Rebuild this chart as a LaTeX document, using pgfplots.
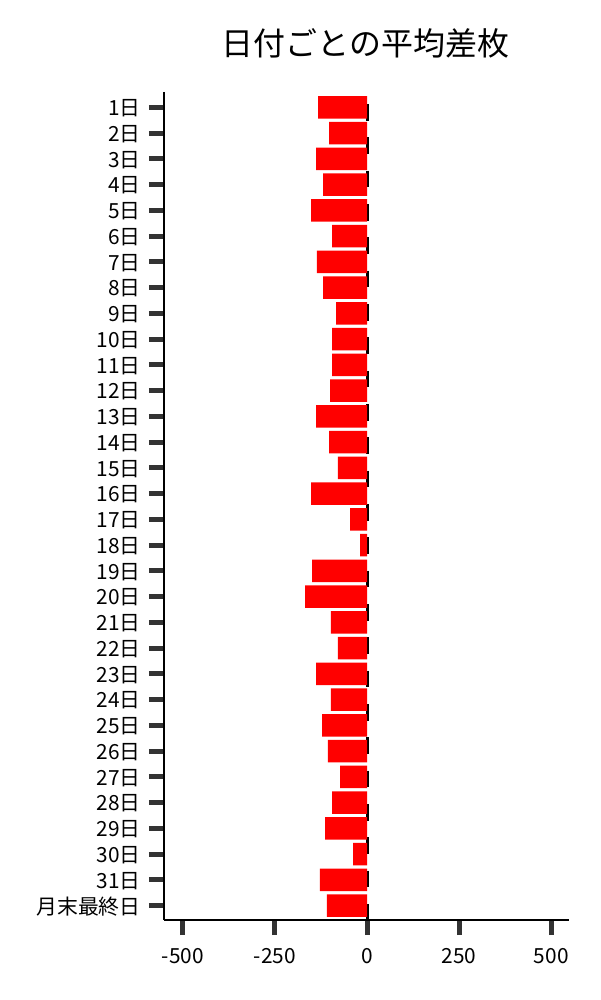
\documentclass[border=0pt]{standalone}
\usepackage{fontspec}
\setmainfont{Noto Sans CJK JP}
\usepackage{pgfplots}
\pgfplotsset{compat=1.18}
\definecolor{tickgray}{HTML}{333333}

\begin{document}
\begin{tikzpicture}
\path[use as bounding box] (0,0) rectangle (432pt,720pt);
\node[font=\fontsize{23}{27}\selectfont] at (263.2pt,689pt) {日付ごとの平均差枚};
\begin{axis}[
    at={(118.08pt,57.6pt)}, anchor=south west,
    scale only axis,
    width=291.6pt, height=596.16pt,
    xbar, bar width=16.2pt,
    y dir=reverse,
    xmin=-551, xmax=548,
    ymin=-0.594, ymax=31.563,
    axis x line*=bottom, axis y line*=left,
    axis line style={black, line width=1pt},
    xtick={-500,-250,0,250,500},
    xticklabels={-500,-250,0,250,500},
    ytick={0,...,31},
    yticklabels={1日,2日,3日,4日,5日,6日,7日,8日,9日,10日,11日,12日,13日,14日,15日,16日,17日,18日,19日,20日,21日,22日,23日,24日,25日,26日,27日,28日,29日,30日,31日,月末最終日},
    tick align=outside,
    major tick length=10.8pt,
    tick style={line width=3.6pt, color=tickgray},
    ticklabel style={font=\fontsize{15}{18}\selectfont, text=black},
    yticklabel style={anchor=east, inner sep=0pt, xshift=-5.8pt, yshift=-0.8pt},
    xticklabel style={anchor=base, inner sep=0pt, yshift=-20.2pt},
    clip=false,
]
\draw[black, line width=2.16pt, dash pattern=on 12pt off 12pt, dash phase=15.4pt]
    (axis cs:0,-0.594) -- (axis cs:0,31.563);
\addplot[fill=red, draw=none] coordinates {
    (-133,0) (-103,1) (-138,2) (-119,3) (-152,4) (-95,5) (-136,6) (-119,7)
    (-84,8) (-95,9) (-95,10) (-100,11) (-138,12) (-103,13) (-79,14) (-152,15)
    (-46,16) (-19,17) (-149,18) (-168,19) (-98,20) (-79,21) (-138,22) (-98,23)
    (-122,24) (-106,25) (-73,26) (-95,27) (-114,28) (-38,29) (-128,30) (-109,31)
};
\end{axis}
\end{tikzpicture}
\end{document}
